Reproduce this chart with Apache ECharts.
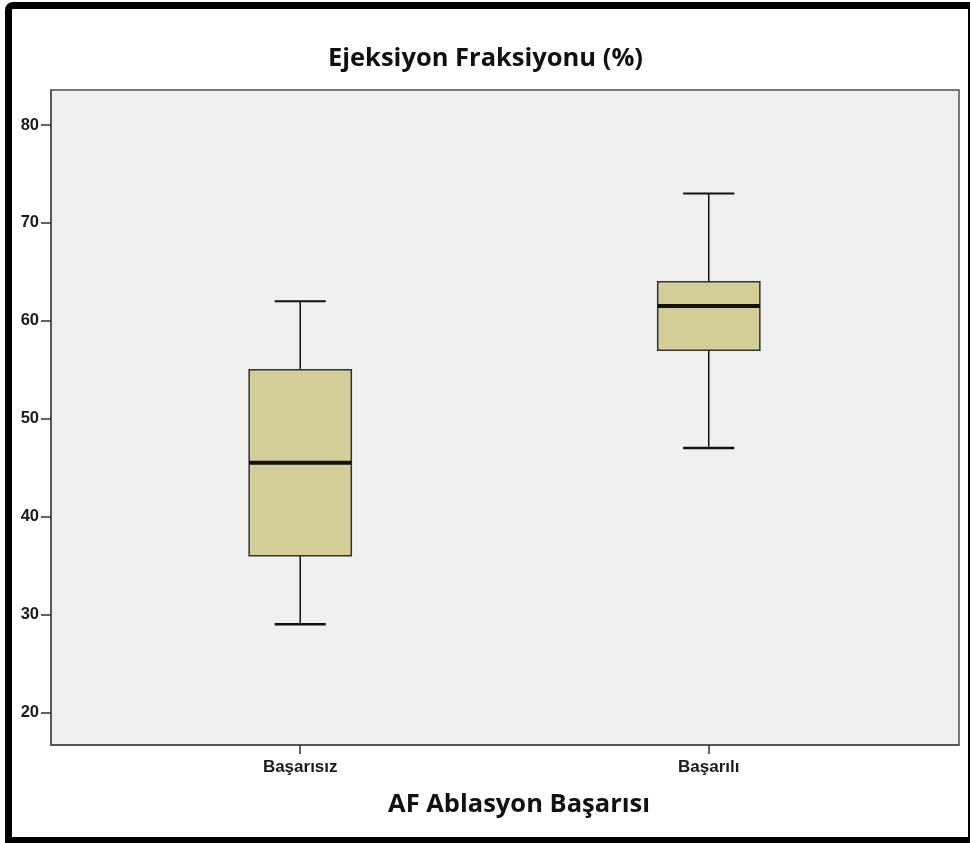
<!DOCTYPE html>
<html>
<head>
<meta charset="utf-8">
<script src="https://cdn.jsdelivr.net/npm/echarts@6.0.0/dist/echarts.min.js"></script>
<style>
  html, body { margin: 0; padding: 0; background: #fff; }
  #chart { position: absolute; left: 0; top: 0; width: 971px; height: 843px; }
  .frame {
    position: absolute; left: 5px; top: 2px; width: 965px; height: 841px;
    box-sizing: border-box; pointer-events: none;
    border-style: solid; border-color: #000;
    border-width: 7px 2px 6px 7px; border-radius: 8px 0 0 0;
  }
</style>
</head>
<body>
<div id="chart"></div>
<div class="frame"></div>
<script>
// box summary per group
const categories = ['Başarısız', 'Başarılı']
const minVals = [29, 47]
const q1Vals = [36, 57]
const medianVals = [45.5, 61.5]
const q3Vals = [55, 64]
const maxVals = [62, 73]
const yTicks = [20, 30, 40, 50, 60, 70, 80]

const chart = echarts.init(document.getElementById('chart'))

const boxData = categories.map((c, i) => [i, minVals[i], q1Vals[i], medianVals[i], q3Vals[i], maxVals[i]])

function renderBox(params, api) {
  const x = api.value(0)
  const pMin = api.coord([x, api.value(1)])
  const pQ1 = api.coord([x, api.value(2)])
  const pMed = api.coord([x, api.value(3)])
  const pQ3 = api.coord([x, api.value(4)])
  const pMax = api.coord([x, api.value(5)])
  const boxW = api.size([0.25, 0])[0]
  const capW = boxW / 2
  const cx = pMed[0]
  const line = (x1, y1, x2, y2, w) => ({
    type: 'line',
    shape: { x1, y1, x2, y2 },
    style: { stroke: '#111', lineWidth: w }
  })
  return {
    type: 'group',
    children: [
      line(cx, pMax[1], cx, pQ3[1], 1.5),
      line(cx, pQ1[1], cx, pMin[1], 1.5),
      line(cx - capW / 2, pMax[1], cx + capW / 2, pMax[1], 2),
      line(cx - capW / 2, pMin[1], cx + capW / 2, pMin[1], 2.5),
      {
        type: 'rect',
        shape: { x: cx - boxW / 2, y: pQ3[1], width: boxW, height: pQ1[1] - pQ3[1] },
        style: { fill: '#d3ce98', stroke: '#333', lineWidth: 1.5 }
      },
      line(cx - boxW / 2, pMed[1], cx + boxW / 2, pMed[1], 4)
    ]
  }
}

const option = {
  animation: false,
  title: {
    text: 'Ejeksiyon Fraksiyonu (%)',
    left: 'center',
    top: 41,
    textStyle: {
      fontFamily: 'Open Sans',
      fontWeight: 'bold',
      fontSize: 25.5,
      color: '#111'
    }
  },
  grid: {
    left: 51,
    right: 12,
    top: 90,
    bottom: 98,
    show: true,
    backgroundColor: '#f0f0f0',
    borderColor: '#4d4d4d',
    borderWidth: 1.5
  },
  xAxis: {
    type: 'value',
    min: -0.61,
    max: 1.6125,
    name: 'AF Ablasyon Başarısı',
    nameLocation: 'middle',
    nameGap: 47,
    nameTextStyle: {
      fontFamily: 'Open Sans',
      fontWeight: 'bold',
      fontSize: 25.5,
      color: '#111',
      padding: [0, 0, 0, 28]
    },
    splitLine: { show: false },
    axisLine: { show: true, onZero: false, lineStyle: { color: '#4d4d4d', width: 1.5 } },
    axisTick: {
      show: true,
      length: 9,
      customValues: [0, 1],
      lineStyle: { color: '#333', width: 1.5 }
    },
    axisLabel: {
      customValues: [0, 1],
      formatter: v => categories[Math.round(v)] || '',
      margin: 14,
      fontFamily: 'Liberation Sans',
      fontWeight: 'bold',
      fontSize: 17,
      color: '#1a1a1a'
    }
  },
  yAxis: {
    type: 'value',
    min: 16.66,
    max: 83.58,
    splitLine: { show: false },
    axisLine: { show: true, onZero: false, lineStyle: { color: '#4d4d4d', width: 1.5 } },
    axisTick: {
      show: true,
      length: 10,
      customValues: yTicks,
      lineStyle: { color: '#333', width: 1.5 }
    },
    axisLabel: {
      customValues: yTicks,
      margin: 12,
      fontFamily: 'Liberation Sans',
      fontWeight: 'bold',
      fontSize: 16.5,
      color: '#1a1a1a'
    }
  },
  series: [
    {
      type: 'custom',
      renderItem: renderBox,
      encode: { x: 0, y: [1, 2, 3, 4, 5] },
      data: boxData
    }
  ]
}

chart.setOption(option)
</script>
</body>
</html>
